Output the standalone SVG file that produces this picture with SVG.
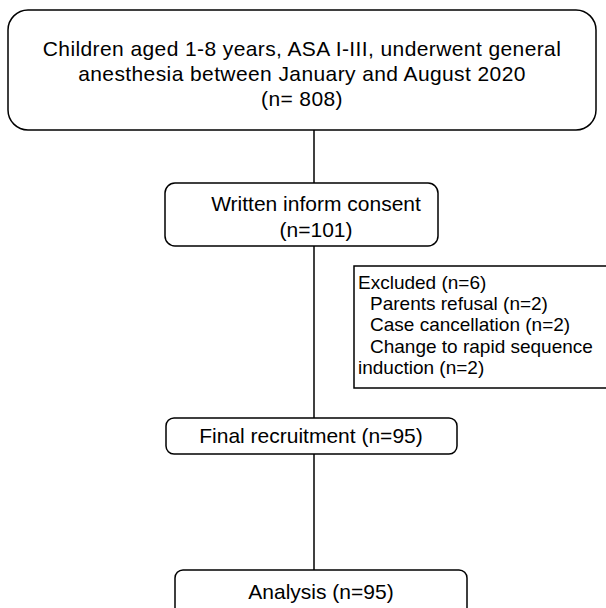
<svg xmlns="http://www.w3.org/2000/svg" width="606" height="608" viewBox="0 0 606 608">
<style>
.box{fill:#fff;stroke:#000;stroke-width:1.5}
.t{font-family:"Liberation Sans",Arial,sans-serif;fill:#000;text-anchor:middle}
.l{font-family:"Liberation Sans",Arial,sans-serif;fill:#000;font-size:19px}
.c{stroke:#000;stroke-width:1.5;fill:none}
</style>
<rect width="606" height="608" fill="#fff"/>
<g id="connectors">
<line class="c" x1="314" y1="130" x2="314" y2="183"/>
<line class="c" x1="314" y1="246" x2="314" y2="418"/>
<line class="c" x1="314" y1="454" x2="314" y2="570"/>
</g>
<g id="n1">
<rect class="box" x="8" y="10" width="588" height="120" rx="20"/>
<text class="t" font-size="21" letter-spacing="0.4" x="302" y="56">Children aged 1-8 years, ASA I-III, underwent general</text>
<text class="t" font-size="21" letter-spacing="0.4" x="302" y="81">anesthesia between January and August 2020</text>
<text class="t" font-size="21" letter-spacing="0.4" x="302" y="106">(n= 808)</text>
</g>
<g id="n2">
<rect class="box" x="165" y="183" width="273" height="63" rx="10"/>
<text class="t" font-size="21" x="316" y="211">Written inform consent</text>
<text class="t" font-size="21" x="316" y="237">(n=101)</text>
</g>
<g id="n3">
<rect class="box" x="354" y="266" width="262" height="122"/>
<text class="l" x="358" y="289">Excluded (n=6)</text>
<text class="l" x="370" y="310">Parents refusal (n=2)</text>
<text class="l" x="370" y="331">Case cancellation (n=2)</text>
<text class="l" x="370" y="353">Change to rapid sequence</text>
<text class="l" x="358" y="374">induction (n=2)</text>
</g>
<g id="n4">
<rect class="box" x="166" y="418" width="291" height="36" rx="8"/>
<text class="t" font-size="21" x="311" y="443">Final recruitment (n=95)</text>
</g>
<g id="n5">
<rect class="box" x="175" y="570" width="292" height="50" rx="8"/>
<text class="t" font-size="21" x="321" y="599">Analysis (n=95)</text>
</g>
</svg>
